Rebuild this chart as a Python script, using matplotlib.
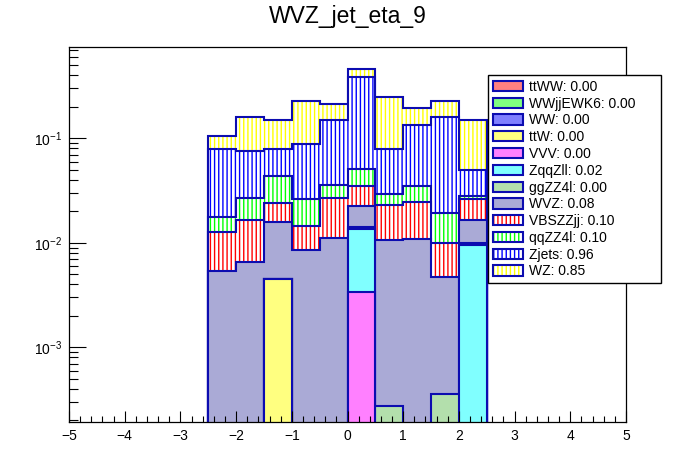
import numpy as np
import matplotlib
matplotlib.use('Agg')
import matplotlib.pyplot as plt
from matplotlib.patches import Patch
from matplotlib.legend_handler import HandlerTuple
from matplotlib.ticker import LogLocator, NullFormatter, MultipleLocator

plt.rcParams['font.family'] = ['Liberation Sans', 'DejaVu Sans']
plt.rcParams['hatch.linewidth'] = 1.0

# bin edges of the jet eta histogram
edges = np.array([-2.5, -2.0, -1.5, -1.0, -0.5, 0.0, 0.5, 1.0, 1.5, 2.0, 2.5])

# per-bin yields, stacked from bottom to top in this order
ttWW = [0, 0, 0, 0, 0, 0, 0, 0, 0, 0]
WWjjEWK6 = [0, 0, 0, 0, 0, 0, 0, 0, 0, 0]
WW = [0, 0, 0, 0, 0, 0, 0, 0, 0, 0]
ttW = [0, 0, 0.00448, 0, 0, 0, 0, 0, 0, 0]
VVV = [0, 0, 0, 0, 0, 0.00336, 0, 0, 0, 0]
ZqqZll = [0, 0, 0, 0, 0, 0.0101, 0, 0, 0, 0.0096]
ggZZ4l = [0, 0, 0, 0, 0, 0.0008, 0.000275, 0, 0.000355, 0.0003]
WVZ = [0.00533, 0.0065, 0.0112, 0.00847, 0.01104, 0.0081, 0.0103, 0.0108, 0.00433, 0.0065]
VBSZZjj = [0.00726, 0.00991, 0.00818, 0.00592, 0.01563, 0.01241, 0.01229, 0.01364, 0.0052, 0.00965]
qqZZ4l = [0.00495, 0.01026, 0.01938, 0.01167, 0.00883, 0.01575, 0.00624, 0.01031, 0.00926, 0.0018]
Zjets = [0.061, 0.0489, 0.0352, 0.0615, 0.1131, 0.336, 0.0494, 0.0984, 0.1398, 0.0215]
WZ = [0.026, 0.0833, 0.0701, 0.1383, 0.0627, 0.0732, 0.1681, 0.0605, 0.067, 0.0992]

names = ['ttWW', 'WWjjEWK6', 'WW', 'ttW', 'VVV', 'ZqqZll', 'ggZZ4l', 'WVZ',
         'VBSZZjj', 'qqZZ4l', 'Zjets', 'WZ']
values = [ttWW, WWjjEWK6, WW, ttW, VVV, ZqqZll, ggZZ4l, WVZ,
          VBSZZjj, qqZZ4l, Zjets, WZ]

# fill style: fine checker (drawn as its mean colour) or vertical lines
styles = [('checker', (1, 0, 0)), ('checker', (0, 1, 0)), ('checker', (0, 0, 1)),
          ('checker', (1, 1, 0)), ('checker', (1, 0, 1)), ('checker', (0, 1, 1)),
          ('checker', (0.4, 0.75, 0.35)), ('checker', (0.33, 0.33, 0.68)),
          ('lines', '#ff0000'), ('lines', '#00ff00'), ('lines', '#0000ff'), ('lines', '#ffff00')]
line_col = '#0c0cb0'
floor = 1e-7


def blend(c):
    return tuple((v + 1) / 2 for v in c)


fig = plt.figure(figsize=(6.96, 4.72), dpi=100)
ax = fig.add_axes([69 / 696, 1 - 422 / 472, (626 - 69) / 696, (422 - 47.3) / 472])
ax.set_yscale('log')

# ROOT-like stack: draw cumulative histograms from the top one down
cum = np.cumsum(np.array(values, dtype=float), axis=0)
for i in reversed(range(len(names))):
    if cum[i].max() <= 0:
        continue
    h = np.maximum(cum[i], floor)
    kind, col = styles[i]
    if kind == 'checker':
        ax.stairs(h, edges, baseline=floor, fill=True, facecolor=blend(col),
                  edgecolor='none', linewidth=0)
    else:
        ax.stairs(h, edges, baseline=floor, fill=True, facecolor='white',
                  edgecolor=col, hatch='||||', linewidth=0)
    ax.stairs(h, edges, baseline=floor, fill=False, edgecolor=line_col, linewidth=1.5)

ax.set_xlim(-5, 5)
ax.set_ylim(1.93e-4, 0.743)

ax.xaxis.set_major_locator(MultipleLocator(1))
ax.xaxis.set_minor_locator(MultipleLocator(0.2))
ax.yaxis.set_major_locator(LogLocator(base=10))
ax.yaxis.set_minor_locator(LogLocator(base=10, subs=np.arange(2, 10)))
ax.yaxis.set_minor_formatter(NullFormatter())
ax.tick_params(axis='both', which='both', direction='in', top=False, right=False,
               width=0.8, labelsize=10, pad=5)
ax.tick_params(axis='x', which='major', length=8)
ax.tick_params(axis='x', which='minor', length=4)
ax.tick_params(axis='y', which='major', length=12.2)
ax.tick_params(axis='y', which='minor', length=6.5)
for s in ax.spines.values():
    s.set_linewidth(0.9)

# legend
handles = []
labels = []
for i, n in enumerate(names):
    kind, col = styles[i]
    if kind == 'checker':
        hd = Patch(facecolor=blend(col), edgecolor=line_col, linewidth=1.5)
    else:
        hd = (Patch(facecolor='white', edgecolor=col, hatch='||||', linewidth=0),
              Patch(facecolor='none', edgecolor=line_col, linewidth=1.5))
    handles.append(hd)
    labels.append('%s: %.2f' % (n, sum(values[i])))

leg = fig.legend(handles, labels, handler_map={tuple: HandlerTuple(ndivide=1)},
                 loc='upper left', bbox_to_anchor=(487.7 / 696, 1 - 75 / 472, 173.3 / 696, 0),
                 mode='expand', borderaxespad=0, borderpad=0.35, fontsize=10,
                 handlelength=2.2, handleheight=0.75, handletextpad=0.45,
                 labelspacing=0.2, fancybox=False, framealpha=1, edgecolor='black')
leg.get_frame().set_linewidth(1.0)

fig.text(0.5, 1 - 17 / 472, 'WVZ_jet_eta_9', ha='center', va='center', fontsize=16.5)

fig.savefig('out.png', dpi=100)
